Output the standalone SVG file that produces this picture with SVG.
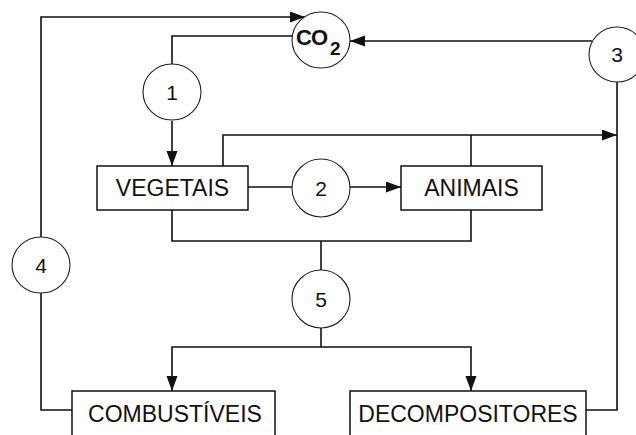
<svg xmlns="http://www.w3.org/2000/svg" width="636" height="435" viewBox="0 0 636 435">
<style>
.ln{fill:none;stroke:#111;stroke-width:1.6}
.bx{fill:#fff;stroke:#111;stroke-width:1.5}
.cr{fill:#fff;stroke:#222;stroke-width:1.1}
.lb{font-family:"Liberation Sans",Arial,sans-serif;font-size:23px;fill:#111;text-anchor:middle}
.nm{font-family:"Liberation Sans",Arial,sans-serif;font-size:21px;fill:#111;text-anchor:middle}
.co{font-family:"Liberation Sans",Arial,sans-serif;font-weight:bold;fill:#111}
</style>
<defs>
<marker id="ar" markerUnits="userSpaceOnUse" markerWidth="16" markerHeight="12" refX="15" refY="5.5" orient="auto">
<path d="M0,0 L15,5.5 L0,11 Z" fill="#111"/>
</marker>
</defs>
<rect width="636" height="435" fill="#fff"/>
<g id="connectors">
<path class="ln" d="M72,410 H41 V293"/>
<path class="ln" d="M41,237 V17 H305" marker-end="url(#ar)"/>
<path class="ln" d="M292,36 H172 V64"/>
<path class="ln" d="M172,121 V166" marker-end="url(#ar)"/>
<path class="ln" d="M586,410 H617 V82"/>
<path class="ln" d="M592,41 H350" marker-end="url(#ar)"/>
<path class="ln" d="M248,187 H292"/>
<path class="ln" d="M350,187 H401" marker-end="url(#ar)"/>
<path class="ln" d="M223,166 V135 H617" marker-end="url(#ar)"/>
<path class="ln" d="M471,166 V135"/>
<path class="ln" d="M172,210 V241 H471 V210"/>
<path class="ln" d="M321,241 V270"/>
<path class="ln" d="M321,328 V347"/>
<path class="ln" d="M321,347 H172 V391" marker-end="url(#ar)"/>
<path class="ln" d="M321,347 H471 V391" marker-end="url(#ar)"/>
</g>
<g id="co2">
<ellipse class="cr" cx="321" cy="40" rx="29" ry="28"/>
<text class="co" x="296" y="45" font-size="22" letter-spacing="-1">CO</text>
<text class="co" x="330" y="55" font-size="19">2</text>
</g>
<g id="n1"><ellipse class="cr" cx="172" cy="92" rx="29" ry="28"/><text class="nm" x="172" y="100">1</text></g>
<g id="n2"><ellipse class="cr" cx="321" cy="188" rx="29" ry="29"/><text class="nm" x="321" y="196">2</text></g>
<g id="n3"><ellipse class="cr" cx="617" cy="54.5" rx="28" ry="27.5"/><text class="nm" x="617" y="62">3</text></g>
<g id="n4"><ellipse class="cr" cx="41" cy="265" rx="29" ry="28"/><text class="nm" x="41" y="273">4</text></g>
<g id="n5"><ellipse class="cr" cx="321" cy="299" rx="29" ry="29"/><text class="nm" x="321" y="307">5</text></g>
<g id="vegetais"><rect class="bx" x="97" y="166" width="151" height="44"/><text class="lb" x="172.5" y="196">VEGETAIS</text></g>
<g id="animais"><rect class="bx" x="401" y="166" width="141" height="44"/><text class="lb" x="471.5" y="196">ANIMAIS</text></g>
<g id="combustiveis"><rect class="bx" x="72" y="391" width="203" height="50"/><text class="lb" x="175" y="422">COMBUSTÍVEIS</text></g>
<g id="decompositores"><rect class="bx" x="350" y="391" width="236" height="50"/><text class="lb" x="468" y="422">DECOMPOSITORES</text></g>
</svg>
